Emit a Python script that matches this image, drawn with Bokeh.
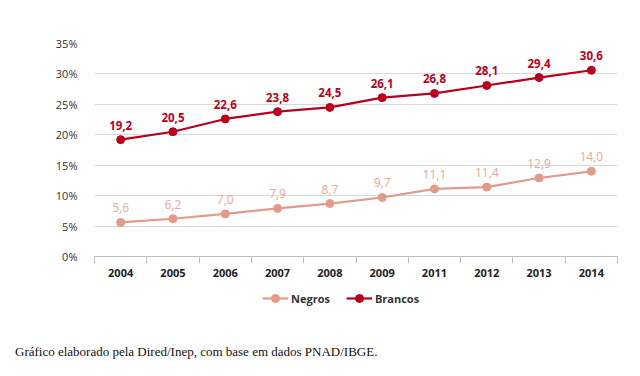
from bokeh.plotting import figure
from bokeh.layouts import column
from bokeh.models import (ColumnDataSource, Range1d, FixedTicker, Legend, LegendItem, Div)
from bokeh.core.properties import value
from bokeh.embed import file_html
from bokeh.resources import INLINE

years = ["2004", "2005", "2006", "2007", "2008", "2009", "2011", "2012", "2013", "2014"]
negros = [5.6, 6.2, 7.0, 7.9, 8.7, 9.7, 11.1, 11.4, 12.9, 14.0]
brancos = [19.2, 20.5, 22.6, 23.8, 24.5, 26.1, 26.8, 28.1, 29.4, 30.6]
y_ticks = [0, 5, 10, 15, 20, 25, 30, 35]
caption = "Gráfico elaborado pela Dired/Inep, com base em dados PNAD/IBGE."

def fmt(v):
    return f"{v:.1f}".replace(".", ",")

xs = [i + 0.5 for i in range(len(years))]
src_n = ColumnDataSource(dict(x=xs, y=negros, lab=[fmt(v) for v in negros]))
src_b = ColumnDataSource(dict(x=xs, y=brancos, lab=[fmt(v) for v in brancos]))

FONT = "Open Sans"
C_B = "#B8001E"
C_N = "#E29A8A"

# ---------------- main chart ----------------
p = figure(width=640, height=285, output_backend="svg", toolbar_location=None,
           x_range=Range1d(0, len(years)), y_range=Range1d(0, 35),
           min_border_left=94, min_border_right=23, min_border_top=43, min_border_bottom=29)
p.outline_line_color = None

p.line("x", "y", source=src_n, line_color=C_N, line_width=2.2)
p.scatter("x", "y", source=src_n, size=8, fill_color=C_N, line_color=C_N)
p.line("x", "y", source=src_b, line_color=C_B, line_width=2.2)
p.scatter("x", "y", source=src_b, size=8, fill_color=C_B, line_color=C_B)

p.text("x", "y", text="lab", source=src_n, text_align="center", text_baseline="bottom",
       y_offset=-10, text_font_size="12px", text_color="#E8A898", text_font=value(FONT))
p.text("x", "y", text="lab", source=src_b, text_align="center", text_baseline="bottom",
       y_offset=-10, text_font_size="11.5px", text_color=C_B, text_font=value(FONT),
       text_font_style="bold")

p.xaxis.ticker = FixedTicker(ticks=xs, minor_ticks=list(range(len(years) + 1)))
p.xaxis.major_label_overrides = {x: y for x, y in zip(xs, years)}
p.xaxis.major_tick_out = 0
p.xaxis.major_tick_in = 0
p.xaxis.minor_tick_out = 7
p.xaxis.minor_tick_in = 0
p.xaxis.minor_tick_line_color = "#BFBFBF"
p.xaxis.axis_line_color = "#BFBFBF"
p.xaxis.major_label_text_font = FONT
p.xaxis.major_label_text_font_style = "bold"
p.xaxis.major_label_text_font_size = "11px"
p.xaxis.major_label_text_color = "#222222"
p.xaxis.major_label_standoff = 5
p.xgrid.grid_line_color = None

p.yaxis.ticker = FixedTicker(ticks=y_ticks)
p.yaxis.major_label_overrides = {t: f"{t}%" for t in y_ticks}
p.yaxis.axis_line_color = None
p.yaxis.major_tick_line_color = None
p.yaxis.minor_tick_line_color = None
p.yaxis.major_label_text_font = FONT
p.yaxis.major_label_text_font_size = "11px"
p.yaxis.major_label_text_color = "#333333"
p.yaxis.major_label_standoff = 11
p.ygrid.grid_line_color = "#D9D9D9"

# ---------------- legend strip ----------------
q = figure(width=640, height=40, output_backend="svg", toolbar_location=None,
           x_range=Range1d(0, len(years)), y_range=Range1d(100, 101),
           x_axis_location=None, y_axis_location=None,
           min_border_left=0, min_border_right=0, min_border_top=0, min_border_bottom=0)
q.outline_line_color = None
q.grid.grid_line_color = None

qn_l = q.line("x", "y", source=src_n, line_color=C_N, line_width=2.2)
qn_c = q.scatter("x", "y", source=src_n, size=8, fill_color=C_N, line_color=C_N)
qb_l = q.line("x", "y", source=src_b, line_color=C_B, line_width=2.2)
qb_c = q.scatter("x", "y", source=src_b, size=8, fill_color=C_B, line_color=C_B)

legend = Legend(items=[LegendItem(label="Negros", renderers=[qn_l, qn_c]),
                       LegendItem(label="Brancos", renderers=[qb_l, qb_c])],
                orientation="horizontal", location=(168, 17),
                label_text_font=FONT, label_text_font_style="bold",
                label_text_font_size="11px", label_text_color="#333333",
                glyph_width=26, spacing=16, border_line_color=None,
                background_fill_alpha=0, padding=2, margin=0, label_standoff=3)
q.add_layout(legend)

# ---------------- caption ----------------
cap = Div(text=(f'<div style="font-family: \'Liberation Serif\'; font-size: 13px; '
                f'color: #111111; padding-left: 15px; padding-top: 19px; '
                f'line-height: 15px; white-space: nowrap;">{caption}</div>'),
          width=640, height=51, margin=0)

layout = column(p, q, cap, spacing=0)
open("out.html", "w").write(file_html(layout, INLINE))
